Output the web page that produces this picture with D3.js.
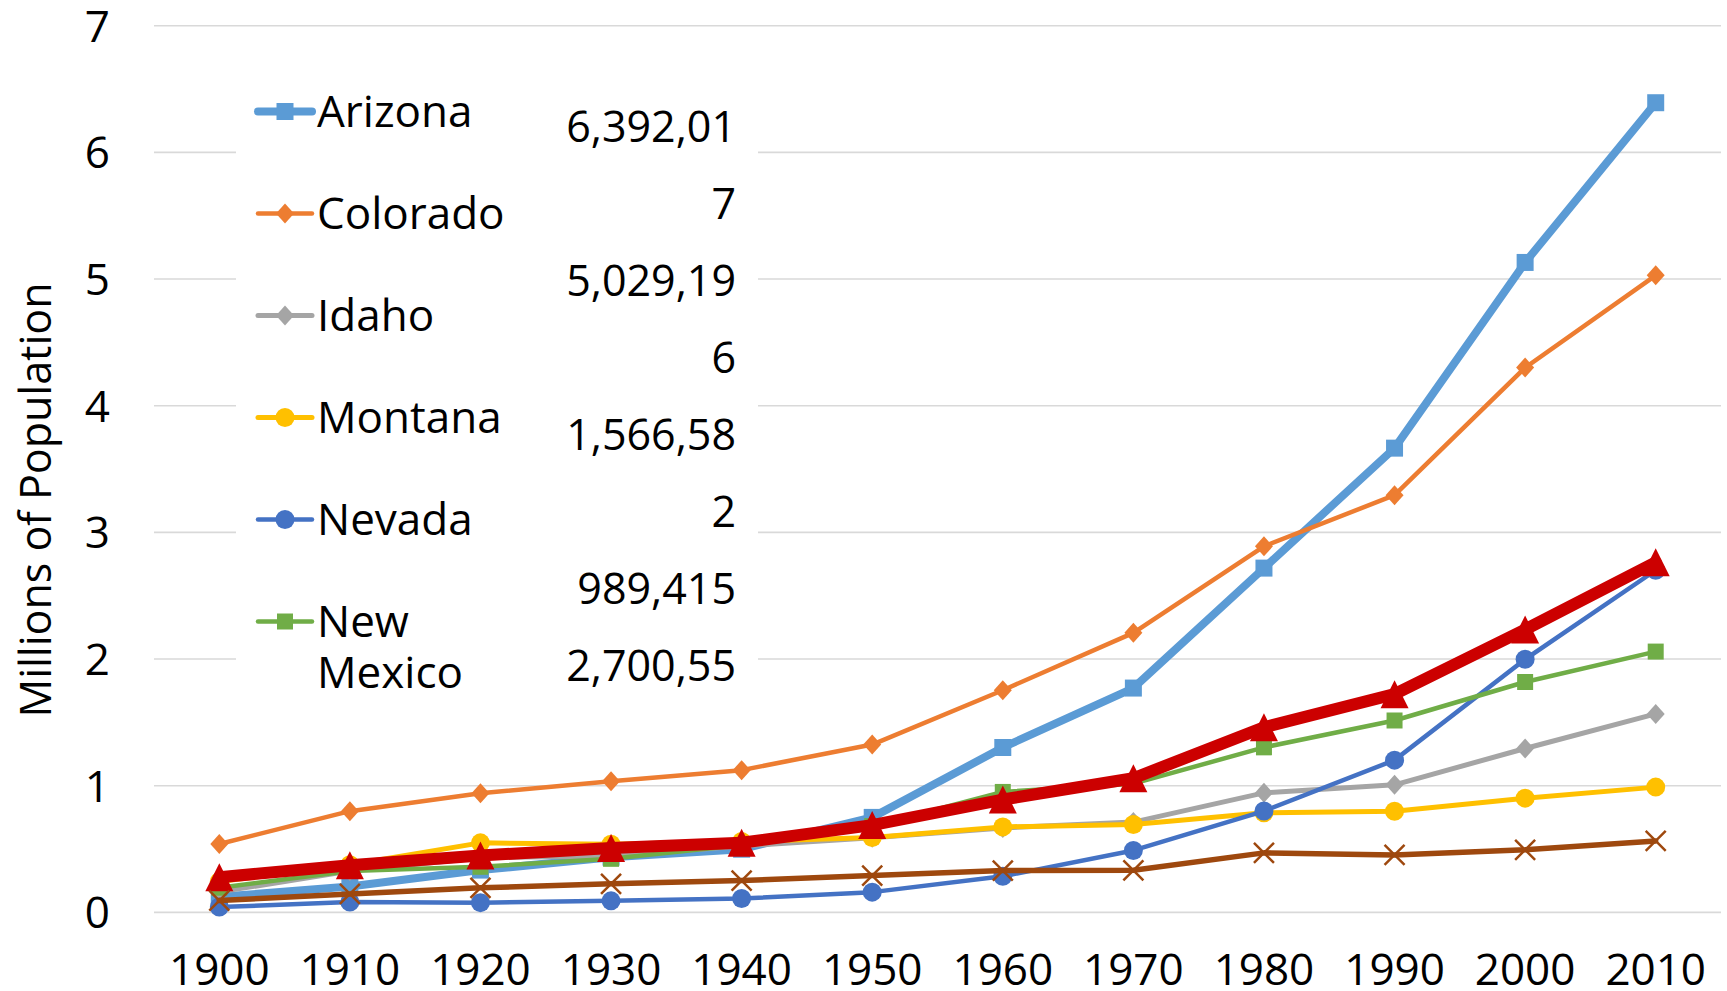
<!DOCTYPE html>
<html>
<head>
<meta charset="utf-8">
<script src="https://cdn.jsdelivr.net/npm/d3@7"></script>
<style>
  html, body { margin: 0; padding: 0; background: #fff; }
  svg { display: block; font-family: "Open Sans", "Noto Sans", sans-serif; }
</style>
</head>
<body>
<div id="chart"></div>
<script>
const years = [1900, 1910, 1920, 1930, 1940, 1950, 1960, 1970, 1980, 1990, 2000, 2010];

// population, millions
const arizona   = [0.123, 0.204, 0.334, 0.436, 0.499, 0.750, 1.302, 1.771, 2.718, 3.665, 5.131, 6.392];
const colorado  = [0.540, 0.799, 0.940, 1.036, 1.123, 1.325, 1.754, 2.207, 2.890, 3.294, 4.301, 5.029];
const idaho     = [0.162, 0.326, 0.432, 0.445, 0.525, 0.589, 0.667, 0.713, 0.944, 1.007, 1.294, 1.567];
const montana   = [0.243, 0.376, 0.549, 0.538, 0.559, 0.591, 0.675, 0.694, 0.787, 0.799, 0.902, 0.989];
const nevada    = [0.042, 0.082, 0.077, 0.091, 0.110, 0.160, 0.285, 0.489, 0.800, 1.202, 1.998, 2.701];
const newMexico = [0.195, 0.327, 0.360, 0.423, 0.532, 0.681, 0.951, 1.016, 1.303, 1.515, 1.819, 2.059];
const utah      = [0.277, 0.373, 0.449, 0.508, 0.550, 0.689, 0.891, 1.059, 1.461, 1.723, 2.233, 2.764];
const wyoming   = [0.093, 0.146, 0.194, 0.226, 0.251, 0.291, 0.330, 0.332, 0.470, 0.454, 0.494, 0.564];

const yTicks = [0, 1, 2, 3, 4, 5, 6, 7];
const labelLines = ['6,392,01', '7', '5,029,19', '6', '1,566,58', '2', '989,415', '2,700,55'];

const series = [
  {name: 'Arizona',    values: arizona,   color: '#5b9bd5', width: 8,   marker: 'square',   size: 17, legend: true},
  {name: 'Colorado',   values: colorado,  color: '#ed7d31', width: 4.5, marker: 'diamond',  size: 18, legend: true},
  {name: 'Idaho',      values: idaho,     color: '#a5a5a5', width: 5,   marker: 'diamond',  size: 18, legend: true},
  {name: 'Montana',    values: montana,   color: '#ffc000', width: 5,   marker: 'circle',   size: 19, legend: true},
  {name: 'Nevada',     values: nevada,    color: '#4472c4', width: 4.5, marker: 'circle',   size: 19, legend: true},
  {name: 'New Mexico', values: newMexico, color: '#70ad47', width: 4.5, marker: 'square',   size: 16, legend: true},
  {name: 'Utah',       values: utah,      color: '#cc0000', width: 12,  marker: 'triangle', size: 28, legend: false},
  {name: 'Wyoming',    values: wyoming,   color: '#9e480e', width: 5.5, marker: 'x',        size: 20, legend: false},
];

const W = 1727, H = 991;
const plotLeft = 154, plotRight = 1721;

const svg = d3.select('#chart').append('svg')
  .attr('width', W)
  .attr('height', H);

const x = d3.scalePoint()
  .domain(years)
  .range([plotLeft, plotRight])
  .padding(0.5);

const y = d3.scaleLinear()
  .domain([0, 7])
  .range([912.4, 25.7]);

// gridlines
svg.append('g')
  .selectAll('line')
  .data(yTicks)
  .join('line')
  .attr('x1', plotLeft)
  .attr('x2', plotRight)
  .attr('y1', d => y(d))
  .attr('y2', d => y(d))
  .attr('stroke', '#d9d9d9')
  .attr('stroke-width', 1.6);

// y tick labels
svg.append('g')
  .selectAll('text')
  .data(yTicks)
  .join('text')
  .attr('x', 110)
  .attr('y', d => y(d))
  .attr('dy', '0.36em')
  .attr('text-anchor', 'end')
  .attr('font-size', 44)
  .attr('fill', '#000')
  .text(d => d);

// x tick labels
svg.append('g')
  .selectAll('text')
  .data(years)
  .join('text')
  .attr('x', d => x(d))
  .attr('y', 985)
  .attr('text-anchor', 'middle')
  .attr('font-size', 44)
  .attr('fill', '#000')
  .text(d => d);

// axis title
svg.append('text')
  .attr('transform', 'translate(51,500) rotate(-90)')
  .attr('text-anchor', 'middle')
  .attr('font-size', 43)
  .attr('fill', '#000')
  .text('Millions of Population');

function markerPath(type, s) {
  const h = s / 2;
  if (type === 'square') return `M${-h},${-h}H${h}V${h}H${-h}Z`;
  if (type === 'diamond') return `M0,${-h - 1}L${h},0L0,${h + 1}L${-h},0Z`;
  if (type === 'triangle') return `M0,${-h}L${h},${h}L${-h},${h}Z`;
  if (type === 'x') return `M${-h},${-h}L${h},${h}M${-h},${h}L${h},${-h}`;
  return d3.symbol(d3.symbolCircle, Math.PI * h * h)();
}

function drawMarker(g, s, cx, cy) {
  const p = g.append('path')
    .attr('d', markerPath(s.marker, s.size))
    .attr('transform', `translate(${cx},${cy})`);
  if (s.marker === 'x') {
    p.attr('fill', 'none').attr('stroke', s.color).attr('stroke-width', 2.5);
  } else {
    p.attr('fill', s.color);
  }
}

const line = d3.line()
  .x((d, i) => x(years[i]))
  .y(d => y(d));

series.forEach(s => {
  const g = svg.append('g');
  g.append('path')
    .datum(s.values)
    .attr('d', line)
    .attr('fill', 'none')
    .attr('stroke', s.color)
    .attr('stroke-width', s.width)
    .attr('stroke-linejoin', 'round')
    .attr('stroke-linecap', 'round');
  s.values.forEach((v, i) => drawMarker(g, s, x(years[i]), y(v)));
});

// legend box
const legend = svg.append('g');
legend.append('rect')
  .attr('x', 236)
  .attr('y', 50)
  .attr('width', 522)
  .attr('height', 660)
  .attr('fill', '#fff');

const legendSeries = series.filter(s => s.legend);
legendSeries.forEach((s, i) => {
  const ly = 111.5 + i * 102;
  legend.append('line')
    .attr('x1', 258)
    .attr('x2', 312)
    .attr('y1', ly)
    .attr('y2', ly)
    .attr('stroke', s.color)
    .attr('stroke-width', s.width)
    .attr('stroke-linecap', 'round');
  drawMarker(legend, s, 285, ly);
  const words = s.name === 'New Mexico' ? ['New', 'Mexico'] : [s.name];
  words.forEach((w, j) => {
    legend.append('text')
      .attr('x', 317)
      .attr('y', ly + 15 + j * 51)
      .attr('font-size', 44)
      .attr('fill', '#000')
      .text(w);
  });
});

legend.append('g')
  .selectAll('text')
  .data(labelLines)
  .join('text')
  .attr('x', 736)
  .attr('y', (d, i) => 142 + i * 77)
  .attr('text-anchor', 'end')
  .attr('font-size', 43)
  .attr('fill', '#000')
  .text(d => d);
</script>
</body>
</html>
